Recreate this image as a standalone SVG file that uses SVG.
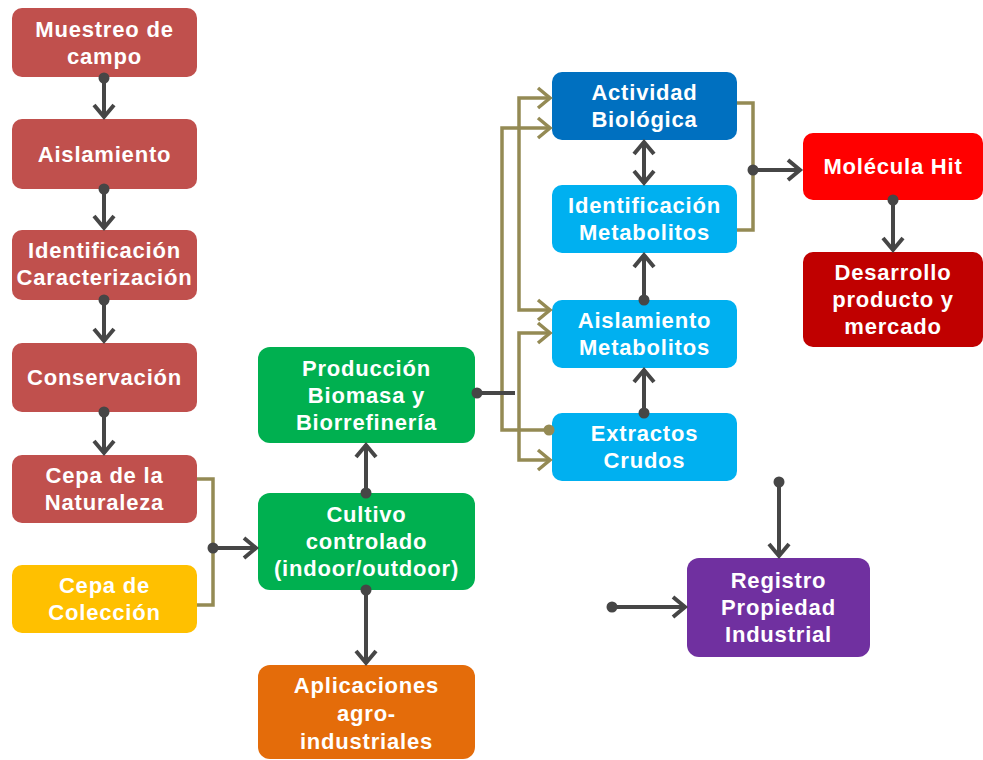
<svg xmlns="http://www.w3.org/2000/svg" width="983" height="760" viewBox="0 0 983 760">
<style>
.t{font-family:"Liberation Sans",Arial,sans-serif;font-weight:bold;font-size:22px;fill:#fff;text-anchor:middle;letter-spacing:0.8px}
.dk{fill:none;stroke:#464646;stroke-width:4}
.ol{fill:none;stroke:#948A54;stroke-width:3.5}
</style>
<defs>
<marker id="ah" viewBox="0 0 16 24" refX="14" refY="12" markerWidth="16" markerHeight="24" markerUnits="userSpaceOnUse" orient="auto-start-reverse" overflow="visible"><path d="M2,2 L14,12 L2,22" fill="none" stroke="#464646" stroke-width="4"/></marker>
<marker id="oh" viewBox="0 0 16 24" refX="14" refY="12" markerWidth="16" markerHeight="24" markerUnits="userSpaceOnUse" orient="auto-start-reverse" overflow="visible"><path d="M2,2 L14,12 L2,22" fill="none" stroke="#948A54" stroke-width="3.5"/></marker>
<marker id="dot" viewBox="0 0 12 12" refX="6" refY="6" markerWidth="12" markerHeight="12" markerUnits="userSpaceOnUse"><circle cx="6" cy="6" r="5.5" fill="#464646"/></marker>
<marker id="odot" viewBox="0 0 12 12" refX="6" refY="6" markerWidth="12" markerHeight="12" markerUnits="userSpaceOnUse"><circle cx="6" cy="6" r="5.5" fill="#948A54"/></marker>
</defs>
<rect width="983" height="760" fill="#fff"/>
<g id="muestreo"><rect x="12" y="8" width="185" height="69" rx="10" fill="#C0504D"/><text class="t" x="104.5" y="37">Muestreo de</text><text class="t" x="104.5" y="64">campo</text></g>
<g id="aislamiento"><rect x="12" y="119" width="185" height="70" rx="10" fill="#C0504D"/><text class="t" x="104.5" y="162">Aislamiento</text></g>
<g id="identificacion"><rect x="12" y="230" width="185" height="70" rx="10" fill="#C0504D"/><text class="t" x="104.5" y="258">Identificación</text><text class="t" x="104.5" y="285">Caracterización</text></g>
<g id="conservacion"><rect x="12" y="343" width="185" height="69" rx="10" fill="#C0504D"/><text class="t" x="104.5" y="385">Conservación</text></g>
<g id="cepa-naturaleza"><rect x="12" y="455" width="185" height="68" rx="10" fill="#C0504D"/><text class="t" x="104.5" y="483">Cepa de la</text><text class="t" x="104.5" y="510">Naturaleza</text></g>
<g id="cepa-coleccion"><rect x="12" y="565" width="185" height="68" rx="10" fill="#FFC000"/><text class="t" x="104.5" y="593">Cepa de</text><text class="t" x="104.5" y="620">Colección</text></g>
<g id="produccion"><rect x="258" y="347" width="217" height="96" rx="12" fill="#00B050"/><text class="t" x="366.5" y="376">Producción</text><text class="t" x="366.5" y="403">Biomasa y</text><text class="t" x="366.5" y="430">Biorrefinería</text></g>
<g id="cultivo"><rect x="258" y="493" width="217" height="97" rx="12" fill="#00B050"/><text class="t" x="366.5" y="522">Cultivo</text><text class="t" x="366.5" y="549">controlado</text><text class="t" x="366.5" y="576">(indoor/outdoor)</text></g>
<g id="aplicaciones"><rect x="258" y="665" width="217" height="94" rx="12" fill="#E46C0A"/><text class="t" x="366.5" y="693">Aplicaciones</text><text class="t" x="366.5" y="721">agro-</text><text class="t" x="366.5" y="749">industriales</text></g>
<g id="actividad"><rect x="552" y="72" width="185" height="68" rx="10" fill="#0070C0"/><text class="t" x="644.5" y="100">Actividad</text><text class="t" x="644.5" y="127">Biológica</text></g>
<g id="ident-metabolitos"><rect x="552" y="185" width="185" height="68" rx="10" fill="#00B0F0"/><text class="t" x="644.5" y="213">Identificación</text><text class="t" x="644.5" y="240">Metabolitos</text></g>
<g id="aisl-metabolitos"><rect x="552" y="300" width="185" height="68" rx="10" fill="#00B0F0"/><text class="t" x="644.5" y="328">Aislamiento</text><text class="t" x="644.5" y="355">Metabolitos</text></g>
<g id="extractos"><rect x="552" y="413" width="185" height="68" rx="10" fill="#00B0F0"/><text class="t" x="644.5" y="441">Extractos</text><text class="t" x="644.5" y="468">Crudos</text></g>
<g id="molecula"><rect x="803" y="133" width="180" height="67" rx="10" fill="#FF0000"/><text class="t" x="893" y="174">Molécula Hit</text></g>
<g id="desarrollo"><rect x="803" y="252" width="180" height="95" rx="10" fill="#C00000"/><text class="t" x="893" y="280">Desarrollo</text><text class="t" x="893" y="307">producto y</text><text class="t" x="893" y="334">mercado</text></g>
<g id="registro"><rect x="687" y="558" width="183" height="99" rx="12" fill="#7030A0"/><text class="t" x="778.5" y="588">Registro</text><text class="t" x="778.5" y="615">Propiedad</text><text class="t" x="778.5" y="642">Industrial</text></g>
<g id="connectors">
<path class="dk" d="M104,78 V117" marker-start="url(#dot)" marker-end="url(#ah)"/>
<path class="dk" d="M104,189 V228" marker-start="url(#dot)" marker-end="url(#ah)"/>
<path class="dk" d="M104,300 V341" marker-start="url(#dot)" marker-end="url(#ah)"/>
<path class="dk" d="M104,412 V453" marker-start="url(#dot)" marker-end="url(#ah)"/>
<path class="ol" d="M197,479 H213 V605 H197"/>
<path class="dk" d="M213,548 H256" marker-start="url(#dot)" marker-end="url(#ah)"/>
<path class="dk" d="M366,493 V445" marker-start="url(#dot)" marker-end="url(#ah)"/>
<path class="dk" d="M366,590 V663" marker-start="url(#dot)" marker-end="url(#ah)"/>
<path class="ol" d="M549,430 H502 V128 H550" marker-start="url(#odot)" marker-end="url(#oh)"/>
<path class="ol" d="M550,98 H519 V310 H550" marker-start="url(#oh)" marker-end="url(#oh)"/>
<path class="ol" d="M550,333 H519 V460 H550" marker-start="url(#oh)" marker-end="url(#oh)"/>
<path class="dk" d="M477,393 H515" marker-start="url(#dot)"/>
<path class="dk" d="M644,142 V183" marker-start="url(#ah)" marker-end="url(#ah)"/>
<path class="dk" d="M644,300 V255" marker-start="url(#dot)" marker-end="url(#ah)"/>
<path class="dk" d="M644,413 V370" marker-start="url(#dot)" marker-end="url(#ah)"/>
<path class="ol" d="M737,103 H753 V230 H737"/>
<path class="dk" d="M753,170 H800" marker-start="url(#dot)" marker-end="url(#ah)"/>
<path class="dk" d="M893,200 V250" marker-start="url(#dot)" marker-end="url(#ah)"/>
<path class="dk" d="M779,482 V556" marker-start="url(#dot)" marker-end="url(#ah)"/>
<path class="dk" d="M612,607 H685" marker-start="url(#dot)" marker-end="url(#ah)"/>
</g>
</svg>
